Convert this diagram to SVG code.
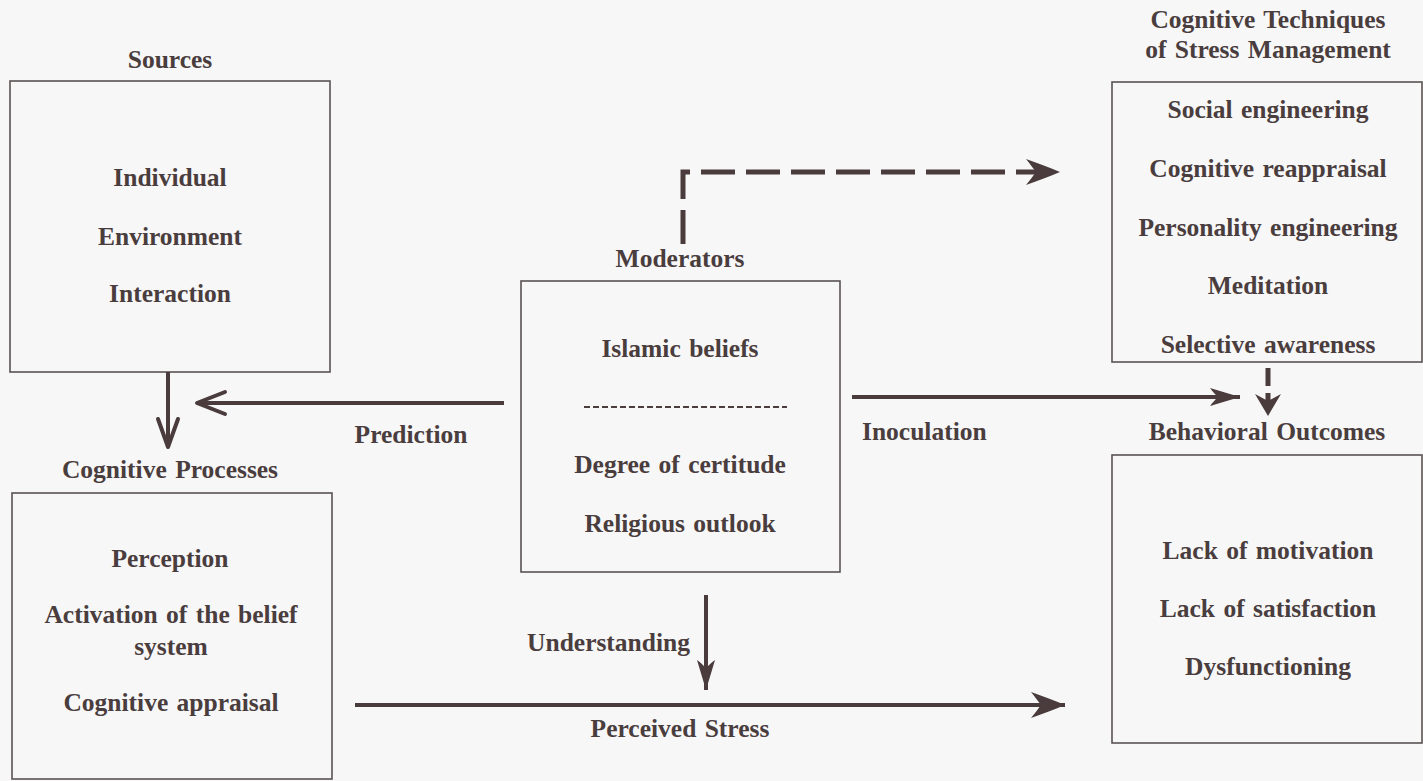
<svg xmlns="http://www.w3.org/2000/svg" width="1423" height="781" viewBox="0 0 1423 781">
<style>
.bg{fill:#f7f7f7}
.box{fill:none;stroke:#5a5253;stroke-width:1.6}
text{font-family:"Liberation Serif","Times New Roman",serif;font-weight:bold;font-size:25.5px;fill:#4a3d3e;text-anchor:middle;word-spacing:2px}
.ln{fill:none;stroke:#4a3b3c;stroke-width:4}
.dash{fill:none;stroke:#4a3b3c;stroke-width:5;stroke-dasharray:34 11}
.sep{stroke:#4a3d3e;stroke-width:2;stroke-dasharray:6 3}
</style>
<defs>
<marker id="barb" markerUnits="userSpaceOnUse" viewBox="-36 -15 38 30" refX="0" refY="0" markerWidth="38" markerHeight="30" orient="auto" overflow="visible">
<path d="M0,0 C-10,-4 -22,-9 -34,-13 C-30,-8 -27,-4 -24,0 C-27,4 -30,8 -34,13 C-22,9 -10,4 0,0 Z" fill="#4a3b3c"/>
</marker>
<marker id="barbN" markerUnits="userSpaceOnUse" viewBox="-32 -11 34 22" refX="0" refY="0" markerWidth="34" markerHeight="22" orient="auto" overflow="visible">
<path d="M0,0 C-10,-3 -20,-6 -30,-9 C-27,-5 -25,-3 -22,0 C-25,3 -27,5 -30,9 C-20,6 -10,3 0,0 Z" fill="#4a3b3c"/>
</marker>
<marker id="barbS" markerUnits="userSpaceOnUse" viewBox="-24 -15 26 30" refX="0" refY="0" markerWidth="26" markerHeight="30" orient="auto" overflow="visible">
<path d="M0,0 L-22,-13 L-15,0 L-22,13 Z" fill="#4a3b3c"/>
</marker>
<marker id="chev" markerUnits="userSpaceOnUse" viewBox="-30 -14 32 28" refX="0" refY="0" markerWidth="32" markerHeight="28" orient="auto" overflow="visible">
<path d="M-28,-11 L0,0 L-28,11" fill="none" stroke="#4a3b3c" stroke-width="4" stroke-linecap="round" stroke-linejoin="round"/>
</marker>
<marker id="chevS" markerUnits="userSpaceOnUse" viewBox="-30 -14 32 28" refX="0" refY="0" markerWidth="32" markerHeight="28" orient="auto" overflow="visible">
<path d="M-28,-10 L0,0 L-28,10" fill="none" stroke="#4a3b3c" stroke-width="4" stroke-linecap="round" stroke-linejoin="round"/>
</marker>
</defs>
<rect class="bg" x="0" y="0" width="1423" height="781"/>

<g id="sources">
<text x="170" y="68">Sources</text>
<rect class="box" x="10" y="81" width="320" height="291"/>
<text x="170" y="186">Individual</text>
<text x="170" y="245">Environment</text>
<text x="170" y="302">Interaction</text>
</g>

<g id="cognitive-processes">
<text x="170" y="478">Cognitive Processes</text>
<rect class="box" x="12" y="493" width="320" height="286"/>
<text x="170" y="567">Perception</text>
<text x="171" y="623">Activation of the belief</text>
<text x="171" y="655">system</text>
<text x="171" y="711">Cognitive appraisal</text>
</g>

<g id="moderators">
<text x="680" y="267">Moderators</text>
<rect class="box" x="521" y="281" width="319" height="291"/>
<text x="680" y="357">Islamic beliefs</text>
<line class="sep" x1="584" y1="407" x2="787" y2="407"/>
<text x="680" y="473">Degree of certitude</text>
<text x="680" y="532">Religious outlook</text>
</g>

<g id="techniques">
<text x="1268" y="28">Cognitive Techniques</text>
<text x="1268" y="58">of Stress Management</text>
<rect class="box" x="1112" y="82" width="310" height="280"/>
<text x="1268" y="118">Social engineering</text>
<text x="1268" y="177">Cognitive reappraisal</text>
<text x="1268" y="236">Personality engineering</text>
<text x="1268" y="294">Meditation</text>
<text x="1268" y="353">Selective awareness</text>
</g>

<g id="outcomes">
<text x="1267" y="440">Behavioral Outcomes</text>
<rect class="box" x="1112" y="455" width="310" height="288"/>
<text x="1268" y="559">Lack of motivation</text>
<text x="1268" y="617">Lack of satisfaction</text>
<text x="1268" y="675">Dysfunctioning</text>
</g>

<g id="connectors">
<line class="ln" x1="168" y1="372" x2="168" y2="447" marker-end="url(#chevS)"/>
<line class="ln" x1="504" y1="403" x2="197" y2="403" marker-end="url(#chev)"/>
<text x="411" y="443">Prediction</text>
<line class="ln" x1="852" y1="397" x2="1240" y2="397" marker-end="url(#barbN)"/>
<text x="862" y="440" style="text-anchor:start">Inoculation</text>
<path class="dash" d="M683,244 V172 H1060" marker-end="url(#barb)"/>
<path class="dash" d="M1268,368 V416" style="stroke-dasharray:18 7" marker-end="url(#barbS)"/>
<line class="ln" x1="706" y1="595" x2="706" y2="690" marker-end="url(#barbN)"/>
<text x="690" y="651" style="text-anchor:end">Understanding</text>
<line class="ln" x1="355" y1="705" x2="1065" y2="705" marker-end="url(#barb)"/>
<text x="680" y="737">Perceived Stress</text>
</g>
</svg>
